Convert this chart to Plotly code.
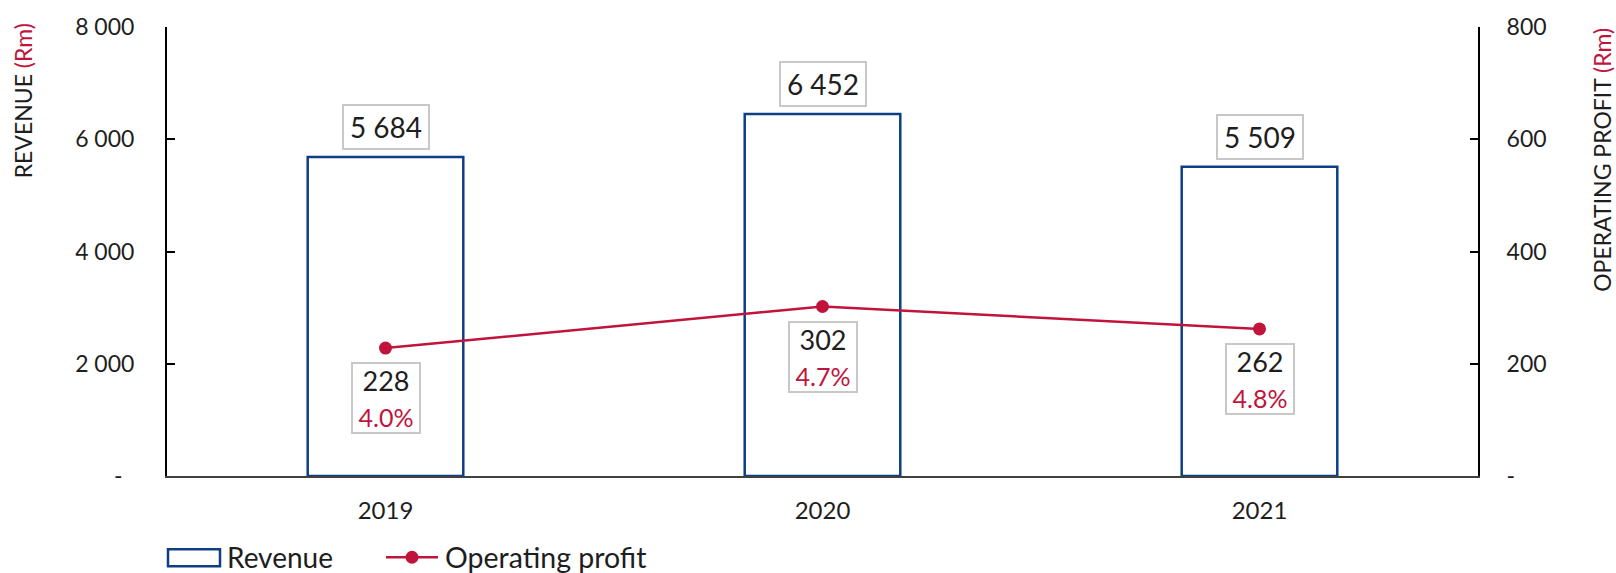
import plotly.graph_objects as go

years = ["2019", "2020", "2021"]
revenue = [5684, 6452, 5509]
op_profit = [228, 302, 262]
margin_labels = ["4.0%", "4.7%", "4.8%"]
rev_ticks = [0, 2000, 4000, 6000, 8000]
rev_ticktext = ["-\u00a0\u00a0", "2 000", "4 000", "6 000", "8 000"]
op_ticks = [0, 200, 400, 600, 800]
op_ticktext = ["-", "200", "400", "600", "800"]

NAVY = "#0E3F84"
RED = "#C0143C"
TXT = "#1E1E1E"
BOX = "#C8C8C8"
FONT = "Lato"
WT = 400

W, H = 1616, 573
L, R, T, B = 167, 138, 23, 97
PW = W - L - R
PH = H - T - B


def px(x):
    return (x - L) / PW


def py(y):
    return (H - B - y) / PH


def fmt(v):
    return f"{v:,}".replace(",", " ")


def F(size, color=TXT):
    return dict(size=size, color=color, family=FONT, weight=WT)


fig = go.Figure()
fig.add_trace(go.Bar(
    x=years, y=revenue, name="Revenue", width=0.356,
    marker=dict(color="white", line=dict(color=NAVY, width=2.5)),
    yaxis="y", showlegend=False, hoverinfo="skip",
))
fig.add_trace(go.Scatter(
    x=years, y=op_profit, name="Operating profit", mode="lines+markers",
    line=dict(color=RED, width=2.5), marker=dict(color=RED, size=13),
    yaxis="y2", showlegend=False, hoverinfo="skip",
))

annotations = []
for i, v in enumerate(revenue):
    annotations.append(dict(
        x=i, y=v, xref="x", yref="y", yanchor="bottom", yshift=7,
        text=fmt(v), showarrow=False, font=F(28),
        bordercolor=BOX, borderwidth=2, borderpad=4, bgcolor="white",
        width=76, height=34,
    ))
for i, (v, m) in enumerate(zip(op_profit, margin_labels)):
    annotations.append(dict(
        x=i, y=v, xref="x", yref="y2", yanchor="top", yshift=-14,
        text=f"{v}<br><span style='font-size:25px;color:{RED}'>{m}</span>",
        showarrow=False, font=F(27),
        bordercolor=BOX, borderwidth=2, borderpad=1, bgcolor="white",
        width=64, height=66,
    ))

# axis titles
annotations.append(dict(
    x=px(23), y=py(98), xref="paper", yref="paper", xanchor="center", yanchor="middle",
    textangle=-90, showarrow=False,
    text=f"REVENUE <span style='color:{RED}'>(Rm)</span>",
    font=F(23),
))
annotations.append(dict(
    x=px(1602), y=py(157), xref="paper", yref="paper", xanchor="center", yanchor="middle",
    textangle=-90, showarrow=False,
    text=f"OPERATING PROFIT <span style='color:{RED}'>(Rm)</span>",
    font=F(23),
))

# legend (manual)
shapes = []
shapes.append(dict(type="rect", xref="paper", yref="paper",
                   x0=px(168), x1=px(220), y0=py(567), y1=py(550),
                   line=dict(color=NAVY, width=2.5), fillcolor="white"))
annotations.append(dict(x=px(225), y=py(558), xref="paper", yref="paper",
                        xanchor="left", yanchor="middle", showarrow=False,
                        text="Revenue", font=F(28)))
shapes.append(dict(type="line", xref="paper", yref="paper",
                   x0=px(386), x1=px(438), y0=py(558), y1=py(558),
                   line=dict(color=RED, width=2.5)))
shapes.append(dict(type="circle", xref="paper", yref="paper",
                   x0=px(405.5), x1=px(418.5), y0=py(564.5), y1=py(551.5),
                   line=dict(color=RED, width=0), fillcolor=RED))
annotations.append(dict(x=px(443), y=py(558), xref="paper", yref="paper",
                        xanchor="left", yanchor="middle", showarrow=False,
                        text="Operating profit", font=F(28.5)))

fig.update_layout(
    width=W, height=H,
    margin=dict(l=L, r=R, t=T, b=B, pad=0),
    paper_bgcolor="white", plot_bgcolor="white",
    font=F(22),
    xaxis=dict(
        type="category", range=[-0.5, 2.5], showgrid=False, zeroline=False,
        showline=True, linecolor="#404040", linewidth=2, ticks="",
        tickfont=F(24), ticklabelstandoff=12,
    ),
    yaxis=dict(
        range=[0, 8000], tickvals=rev_ticks, ticktext=rev_ticktext,
        showgrid=False, zeroline=False, showline=True, linecolor="black", linewidth=2,
        ticks="inside", ticklen=8, tickwidth=2, tickcolor="black",
        tickfont=F(23), ticklabelstandoff=26,
    ),
    yaxis2=dict(
        range=[0, 800], tickvals=op_ticks, ticktext=op_ticktext, overlaying="y", side="right",
        showgrid=False, zeroline=False, showline=True, linecolor="black", linewidth=2,
        ticks="inside", ticklen=8, tickwidth=2, tickcolor="black",
        tickfont=F(23), ticklabelstandoff=22,
    ),
    annotations=annotations,
    shapes=shapes,
    showlegend=False,
)

fig.write_html("out.html", config={"displayModeBar": False},
               post_script="document.body.style.margin='0';document.body.style.overflow='hidden';")
